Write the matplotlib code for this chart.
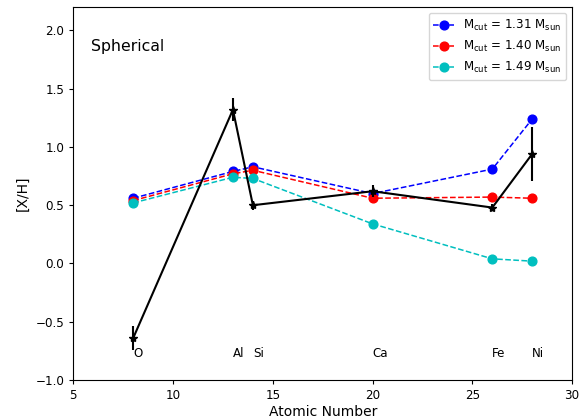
import numpy as np
import matplotlib
matplotlib.use("Agg")
from matplotlib import pyplot as plt

# 元素与原子序数
elements = ["O", "Al", "Si", "Ca", "Fe", "Ni"]
atomic_number = [8, 13, 14, 20, 26, 28]

# 模型 [X/H]
xh_131 = [0.56, 0.79, 0.83, 0.60, 0.81, 1.24]
xh_140 = [0.54, 0.77, 0.80, 0.56, 0.57, 0.56]
xh_149 = [0.52, 0.74, 0.73, 0.34, 0.04, 0.02]

# 观测值及误差
obs = [-0.64, 1.32, 0.50, 0.62, 0.48, 0.94]
obs_err = [0.10, 0.10, 0.04, 0.05, 0.03, 0.23]

plt.rcParams["xtick.major.size"] = 3.0
plt.rcParams["ytick.major.size"] = 3.0
plt.rcParams["axes.linewidth"] = 0.8

fig = plt.figure(figsize=(5.82, 4.19), dpi=100)
ax = fig.add_axes([0.126, 0.093, 0.857, 0.890])

ax.plot(atomic_number, xh_131, "o--", color="b", markersize=6.3, linewidth=1.1,
        label=r"M$_{\rm cut}$ = 1.31 M$_{\rm sun}$")
ax.plot(atomic_number, xh_140, "o--", color="r", markersize=6.3, linewidth=1.1,
        label=r"M$_{\rm cut}$ = 1.40 M$_{\rm sun}$")
ax.plot(atomic_number, xh_149, "o--", color="c", markersize=6.3, linewidth=1.1,
        label=r"M$_{\rm cut}$ = 1.49 M$_{\rm sun}$")
ax.errorbar(atomic_number, obs, yerr=obs_err, fmt="*-", color="k",
            markersize=6, linewidth=1.5)

for z, el in zip(atomic_number, elements):
    ax.text(z, -0.77, el, ha="left", va="center", fontsize=8.6)

ax.text(0.036, 0.895, "Spherical", transform=ax.transAxes, fontsize=11.3,
        va="center", ha="left")

ax.set_xlim(5, 30)
ax.set_ylim(-1.0, 2.2)
ax.set_yticks(np.arange(-1.0, 2.01, 0.5))
ax.tick_params(labelsize=8.6)
ax.set_xlabel("Atomic Number", fontsize=10, labelpad=2)
ax.set_ylabel("[X/H]", fontsize=10)
ax.legend(loc="upper right", fontsize=8.6, handlelength=1.7)

fig.savefig("out.png", dpi=100)
